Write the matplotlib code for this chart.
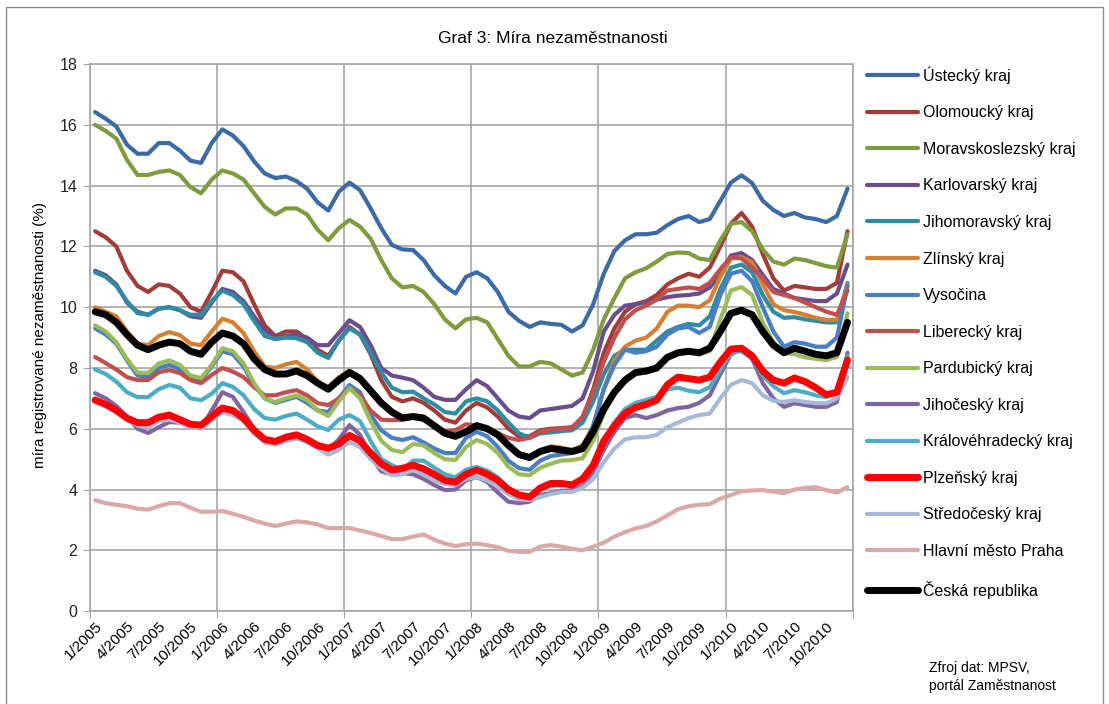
import numpy as np
import matplotlib
matplotlib.use("Agg")
import matplotlib.pyplot as plt
from matplotlib.patches import Rectangle

plt.rcParams['font.family'] = ['Liberation Sans', 'DejaVu Sans']

# měsíce 1/2005 .. 12/2010 (72 hodnot), popisky každý třetí měsíc
tick_labels = ['1/2005', '4/2005', '7/2005', '10/2005', '1/2006', '4/2006', '7/2006', '10/2006',
               '1/2007', '4/2007', '7/2007', '10/2007', '1/2008', '4/2008', '7/2008', '10/2008',
               '1/2009', '4/2009', '7/2009', '10/2009', '1/2010', '4/2010', '7/2010', '10/2010']

ustecky = [16.42, 16.2, 15.95, 15.35, 15.05, 15.05, 15.4, 15.4, 15.15, 14.82, 14.75, 15.4,
           15.85, 15.65, 15.3, 14.8, 14.4, 14.25, 14.3, 14.15, 13.9, 13.45, 13.18, 13.8,
           14.1, 13.85, 13.25, 12.6, 12.05, 11.9, 11.88, 11.55, 11.05, 10.7, 10.45, 11.0,
           11.15, 10.95, 10.5, 9.85, 9.55, 9.35, 9.5, 9.45, 9.42, 9.2, 9.4, 10.1,
           11.1, 11.85, 12.2, 12.4, 12.4, 12.45, 12.7, 12.9, 13.0, 12.8, 12.9, 13.5,
           14.1, 14.34, 14.08, 13.5, 13.2, 13.0, 13.1, 12.95, 12.9, 12.8, 13.0, 13.9]
olomoucky = [12.5, 12.3, 12.0, 11.2, 10.7, 10.5, 10.75, 10.7, 10.45, 10.0, 9.85, 10.5,
             11.2, 11.15, 10.85, 10.1, 9.4, 9.05, 9.2, 9.2, 8.95, 8.6, 8.4, 8.9,
             9.35, 9.1, 8.45, 7.6, 7.05, 6.9, 7.0, 6.85, 6.6, 6.3, 6.2, 6.6,
             6.85, 6.7, 6.4, 6.0, 5.75, 5.75, 5.95, 6.0, 6.02, 6.05, 6.35, 7.3,
             8.5, 9.3, 9.85, 10.1, 10.2, 10.4, 10.75, 10.95, 11.1, 11.0, 11.3, 12.0,
             12.75, 13.1, 12.65, 11.75, 10.95, 10.55, 10.7, 10.65, 10.6, 10.6, 10.8, 12.5]
moravskoslezsky = [16.0, 15.8, 15.55, 14.85, 14.35, 14.35, 14.45, 14.5, 14.35, 13.95, 13.75, 14.2,
                   14.5, 14.4, 14.2, 13.75, 13.3, 13.05, 13.25, 13.25, 13.05, 12.55, 12.2, 12.6,
                   12.87, 12.65, 12.25, 11.55, 10.95, 10.65, 10.7, 10.5, 10.1, 9.6, 9.3, 9.6,
                   9.65, 9.5, 8.95, 8.4, 8.05, 8.05, 8.2, 8.15, 7.95, 7.75, 7.85, 8.6,
                   9.6, 10.3, 10.95, 11.15, 11.28, 11.5, 11.75, 11.8, 11.78, 11.6, 11.55, 12.2,
                   12.75, 12.8, 12.5, 11.9, 11.5, 11.4, 11.6, 11.55, 11.45, 11.35, 11.3, 12.4]
karlovarsky = [11.2, 11.05, 10.75, 10.15, 9.85, 9.75, 9.95, 10.0, 9.9, 9.7, 9.65, 10.15,
               10.6, 10.5, 10.2, 9.7, 9.25, 8.95, 9.05, 9.1, 9.0, 8.75, 8.75, 9.15,
               9.57, 9.35, 8.75, 8.0, 7.75, 7.68, 7.6, 7.35, 7.05, 6.95, 6.95, 7.3,
               7.6, 7.4, 7.0, 6.6, 6.4, 6.35, 6.6, 6.65, 6.7, 6.75, 7.0, 7.9,
               9.2, 9.75, 10.05, 10.1, 10.15, 10.25, 10.33, 10.38, 10.4, 10.45, 10.65, 11.1,
               11.7, 11.78, 11.55, 11.06, 10.6, 10.45, 10.3, 10.25, 10.2, 10.2, 10.45, 11.4]
jihomoravsky = [11.15, 11.0, 10.7, 10.2, 9.8, 9.75, 9.95, 10.0, 9.9, 9.75, 9.75, 10.2,
                10.55, 10.4, 10.1, 9.55, 9.05, 8.95, 9.0, 8.98, 8.85, 8.5, 8.33, 8.9,
                9.3, 9.1, 8.5, 7.85, 7.35, 7.2, 7.22, 7.0, 6.8, 6.55, 6.5, 6.9,
                7.0, 6.9, 6.6, 6.2, 5.85, 5.7, 5.85, 5.88, 5.92, 5.95, 6.2, 6.9,
                7.8, 8.4, 8.6, 8.6, 8.6, 8.9, 9.2, 9.35, 9.45, 9.4, 9.7, 10.6,
                11.3, 11.4, 11.15, 10.4, 9.85, 9.65, 9.67, 9.6, 9.55, 9.5, 9.5, 10.8]
zlinsky = [10.0, 9.85, 9.7, 9.2, 8.8, 8.75, 9.05, 9.18, 9.08, 8.8, 8.75, 9.2,
           9.62, 9.5, 9.15, 8.55, 8.05, 8.0, 8.12, 8.2, 7.95, 7.55, 7.37, 7.7,
           7.92, 7.7, 7.3, 6.9, 6.6, 6.4, 6.45, 6.4, 6.15, 5.9, 5.8, 5.95,
           6.15, 6.05, 5.85, 5.5, 5.2, 5.1, 5.3, 5.42, 5.38, 5.3, 5.45, 6.1,
           7.3, 8.25, 8.7, 8.9, 9.0, 9.3, 9.85, 10.05, 10.05, 10.0, 10.23, 11.0,
           11.6, 11.65, 11.48, 10.75, 10.1, 9.9, 9.84, 9.75, 9.65, 9.58, 9.58, 10.75]
vysocina = [9.3, 9.1, 8.8, 8.25, 7.75, 7.7, 8.0, 8.1, 7.95, 7.65, 7.6, 8.05,
            8.55, 8.45, 8.05, 7.45, 7.0, 6.85, 6.95, 7.05, 6.85, 6.6, 6.55, 7.0,
            7.44, 7.2, 6.45, 5.95, 5.7, 5.63, 5.72, 5.55, 5.35, 5.2, 5.2, 5.7,
            5.9, 5.75, 5.4, 4.95, 4.7, 4.65, 4.95, 5.1, 5.15, 5.2, 5.3, 6.1,
            7.3, 8.1, 8.6, 8.5, 8.55, 8.7, 9.1, 9.3, 9.35, 9.15, 9.35, 10.4,
            11.1, 11.2, 10.85, 10.0, 9.2, 8.7, 8.85, 8.8, 8.7, 8.7, 9.0, 10.7]
liberecky = [8.36, 8.16, 7.95, 7.7, 7.6, 7.6, 7.86, 7.93, 7.83, 7.6, 7.5, 7.77,
             8.0, 7.88, 7.7, 7.37, 7.1, 7.1, 7.2, 7.27, 7.1, 6.84, 6.78, 7.0,
             7.34, 7.1, 6.6, 6.3, 6.28, 6.3, 6.38, 6.28, 6.1, 5.92, 5.95, 6.15,
             6.1, 6.0, 5.85, 5.7, 5.63, 5.7, 5.9, 5.96, 6.0, 6.02, 6.4, 7.2,
             8.2, 9.0, 9.6, 9.9, 10.05, 10.25, 10.55, 10.6, 10.65, 10.6, 10.8, 11.25,
             11.65, 11.6, 11.3, 10.95, 10.5, 10.4, 10.3, 10.15, 10.0, 9.85, 9.75, 10.55]
pardubicky = [9.4, 9.2, 8.85, 8.3, 7.85, 7.83, 8.15, 8.25, 8.1, 7.75, 7.67, 8.1,
              8.65, 8.55, 8.15, 7.5, 7.0, 6.88, 7.0, 7.1, 6.95, 6.6, 6.42, 6.9,
              7.34, 7.0, 6.25, 5.6, 5.3, 5.23, 5.5, 5.45, 5.2, 5.0, 4.97, 5.4,
              5.63, 5.5, 5.2, 4.75, 4.5, 4.47, 4.72, 4.85, 4.95, 4.97, 5.03, 5.6,
              6.5, 7.15, 7.55, 7.8, 7.85, 7.95, 8.3, 8.45, 8.5, 8.45, 8.55, 9.6,
              10.55, 10.66, 10.4, 9.5, 8.85, 8.5, 8.45, 8.35, 8.3, 8.26, 8.36, 9.8]
jihocesky = [7.17, 7.0, 6.75, 6.4, 6.0, 5.86, 6.05, 6.22, 6.2, 6.05, 6.02, 6.6,
             7.2, 7.05, 6.55, 6.0, 5.65, 5.56, 5.7, 5.8, 5.65, 5.4, 5.3, 5.65,
             6.12, 5.8, 5.1, 4.6, 4.5, 4.54, 4.5, 4.35, 4.15, 3.98, 4.0, 4.3,
             4.41, 4.25, 3.9, 3.6, 3.55, 3.6, 3.82, 3.88, 3.95, 3.98, 4.1, 4.6,
             5.3, 5.9, 6.35, 6.45, 6.35, 6.45, 6.6, 6.68, 6.72, 6.85, 7.1, 7.8,
             8.45, 8.6, 8.3, 7.5, 7.0, 6.72, 6.84, 6.78, 6.72, 6.72, 6.88, 8.5]
kralovehradecky = [7.95, 7.8, 7.55, 7.2, 7.04, 7.04, 7.3, 7.44, 7.35, 7.0, 6.94, 7.15,
                   7.5, 7.38, 7.1, 6.65, 6.35, 6.3, 6.42, 6.5, 6.3, 6.08, 5.96, 6.3,
                   6.45, 6.25, 5.6, 5.0, 4.8, 4.64, 4.95, 4.95, 4.72, 4.5, 4.4, 4.65,
                   4.74, 4.62, 4.4, 4.05, 3.85, 3.82, 4.0, 4.12, 4.17, 4.2, 4.3, 4.75,
                   5.6, 6.2, 6.65, 6.85, 6.95, 7.05, 7.3, 7.35, 7.25, 7.2, 7.37, 7.95,
                   8.5, 8.55, 8.3, 7.75, 7.4, 7.17, 7.27, 7.2, 7.1, 7.04, 7.2, 8.4]
plzensky = [6.94, 6.8, 6.6, 6.35, 6.2, 6.2, 6.38, 6.45, 6.3, 6.15, 6.12, 6.4,
            6.68, 6.6, 6.35, 5.95, 5.65, 5.58, 5.72, 5.8, 5.65, 5.45, 5.36, 5.5,
            5.78, 5.6, 5.2, 4.85, 4.64, 4.7, 4.8, 4.68, 4.5, 4.3, 4.24, 4.5,
            4.64, 4.5, 4.3, 4.0, 3.82, 3.75, 4.05, 4.2, 4.2, 4.15, 4.35, 4.8,
            5.6, 6.1, 6.5, 6.7, 6.8, 6.94, 7.45, 7.7, 7.65, 7.6, 7.7, 8.2,
            8.62, 8.65, 8.4, 7.9, 7.6, 7.5, 7.67, 7.55, 7.35, 7.12, 7.2, 8.26]
stredocesky = [7.0, 6.85, 6.6, 6.3, 6.1, 6.05, 6.25, 6.3, 6.2, 6.05, 6.0, 6.3,
               6.55, 6.45, 6.25, 5.85, 5.55, 5.48, 5.6, 5.68, 5.55, 5.35, 5.15, 5.3,
               5.56, 5.4, 5.0, 4.7, 4.47, 4.5, 4.64, 4.5, 4.3, 4.18, 4.15, 4.35,
               4.41, 4.3, 4.1, 3.85, 3.68, 3.65, 3.75, 3.85, 3.92, 3.92, 4.05, 4.35,
               4.9, 5.35, 5.65, 5.72, 5.72, 5.8, 6.05, 6.2, 6.35, 6.45, 6.5, 7.0,
               7.45, 7.6, 7.5, 7.1, 6.92, 6.88, 6.94, 6.88, 6.84, 6.84, 7.0, 7.7]
praha = [3.65, 3.55, 3.5, 3.45, 3.37, 3.34, 3.45, 3.55, 3.55, 3.4, 3.27, 3.27,
         3.29, 3.2, 3.1, 2.98, 2.88, 2.8, 2.88, 2.95, 2.92, 2.85, 2.73, 2.73,
         2.73, 2.65, 2.57, 2.47, 2.37, 2.37, 2.45, 2.52, 2.35, 2.22, 2.14, 2.2,
         2.22, 2.17, 2.1, 1.98, 1.95, 1.95, 2.12, 2.17, 2.12, 2.05, 2.0, 2.12,
         2.25, 2.45, 2.6, 2.72, 2.8, 2.95, 3.15, 3.35, 3.45, 3.5, 3.52, 3.7,
         3.82, 3.94, 3.97, 3.98, 3.93, 3.88, 4.0, 4.05, 4.08, 3.98, 3.9, 4.08]
cr = [9.85, 9.75, 9.5, 9.1, 8.75, 8.6, 8.75, 8.85, 8.8, 8.55, 8.45, 8.85,
      9.15, 9.05, 8.8, 8.3, 7.95, 7.8, 7.8, 7.9, 7.75, 7.5, 7.3, 7.6,
      7.85, 7.65, 7.25, 6.85, 6.55, 6.35, 6.4, 6.35, 6.1, 5.85, 5.75, 5.9,
      6.1, 6.0, 5.8, 5.45, 5.15, 5.05, 5.25, 5.35, 5.3, 5.25, 5.35, 5.9,
      6.65, 7.2, 7.6, 7.85, 7.9, 8.0, 8.35, 8.5, 8.55, 8.5, 8.65, 9.2,
      9.8, 9.9, 9.75, 9.2, 8.75, 8.5, 8.65, 8.55, 8.45, 8.4, 8.5, 9.5]

series = [
    ('Ústecký kraj', ustecky, '#3C6AA5', 3.0),
    ('Olomoucký kraj', olomoucky, '#A33B39', 3.0),
    ('Moravskoslezský kraj', moravskoslezsky, '#7E9C3E', 3.0),
    ('Karlovarský kraj', karlovarsky, '#6A4E8C', 3.0),
    ('Jihomoravský kraj', jihomoravsky, '#2E8BA3', 3.0),
    ('Zlínský kraj', zlinsky, '#D6802F', 3.0),
    ('Vysočina', vysocina, '#4A7EC4', 3.0),
    ('Liberecký kraj', liberecky, '#C0504D', 3.0),
    ('Pardubický kraj', pardubicky, '#9BBB59', 3.0),
    ('Jihočeský kraj', jihocesky, '#8064A2', 3.0),
    ('Královéhradecký kraj', kralovehradecky, '#4BACC6', 3.0),
    ('Plzeňský kraj', plzensky, '#FF0000', 5.0),
    ('Středočeský kraj', stredocesky, '#A6B9DA', 3.0),
    ('Hlavní město Praha', praha, '#D9A9A8', 3.0),
    ('Česká republika', cr, '#000000', 5.0),
]

fig = plt.figure(figsize=(11.09, 7.04), dpi=100)
ax = fig.add_axes([0.081, 0.132, 0.688, 0.777])

x = np.arange(len(cr))
for i, (name, vals, col, lw) in enumerate(series):
    z = 3 + i
    if name == 'Plzeňský kraj':
        z = 30
    if name == 'Česká republika':
        z = 40
    ax.plot(x, vals, color=col, lw=lw, label=name, zorder=z,
            solid_joinstyle='round', solid_capstyle='round')

grid_col = '#A6A6A6'
ax.set_xlim(-0.5, len(cr) - 0.5)
ax.set_ylim(0, 18)
ax.set_yticks(np.arange(0, 19, 2))
ax.set_xticks(np.arange(-0.5, len(cr), 12))
ax.set_xticklabels([])
ax.set_xticks(np.arange(0, len(cr), 3), minor=True)
ax.set_xticklabels(tick_labels, minor=True, rotation=45, ha='right', va='top',
                   rotation_mode='anchor', fontsize=11)
ax.tick_params(axis='x', which='minor', length=0, pad=6)
ax.tick_params(axis='x', which='major', length=5, color=grid_col, direction='out')
ax.tick_params(axis='y', length=5, color=grid_col, labelsize=11.5, pad=4, labelcolor='#222222')
ax.grid(True, which='major', color=grid_col, lw=1.2, zorder=0)
ax.set_axisbelow(True)
for s in ax.spines.values():
    s.set_color(grid_col)
    s.set_linewidth(1.2)

fig.text(0.4986, 0.946, 'Graf 3: Míra nezaměstnanosti', ha='center', va='center', fontsize=12.5)
fig.text(0.036, 0.524, 'míra registrované nezaměstnanosti (%)', rotation=90,
         ha='center', va='center', fontsize=11)
fig.text(0.838, 0.016, 'Zfroj dat: MPSV,\nportál Zaměstnanost', ha='left', va='bottom',
         fontsize=10, linespacing=1.35)

fig.legend(loc='upper left', bbox_to_anchor=(0.776, 0.915), frameon=False,
           fontsize=11.5, labelspacing=1.35, handlelength=3.2, handletextpad=0.3,
           borderaxespad=0)

fig.patches.append(Rectangle((0.005, -0.01), 0.99, 1.0, transform=fig.transFigure,
                             fill=False, edgecolor='#8C8C8C', lw=1.0))

fig.savefig('out.png', dpi=100)
